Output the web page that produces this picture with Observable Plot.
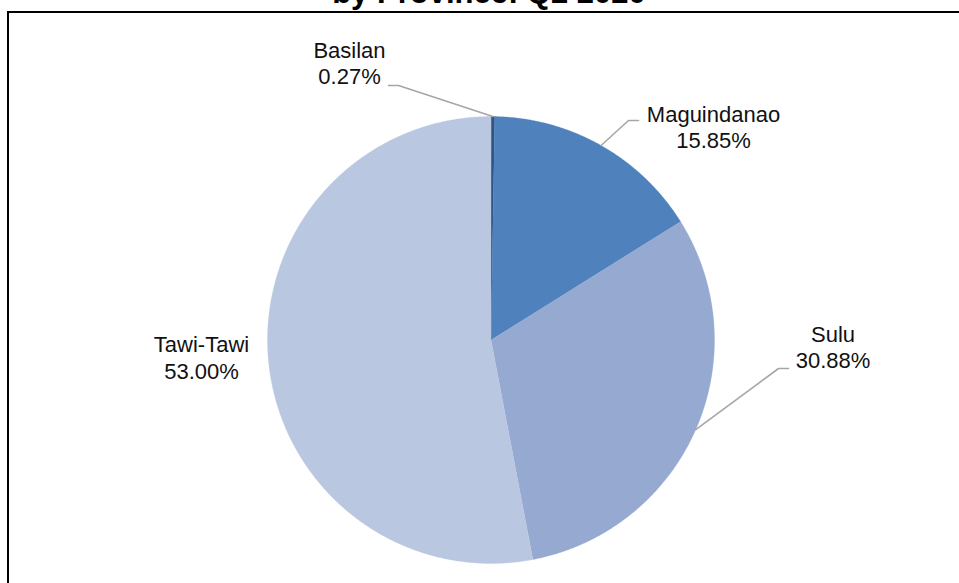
<!DOCTYPE html>
<html>
<head>
<meta charset="utf-8">
<script src="https://cdn.jsdelivr.net/npm/d3@7"></script>
<script src="https://cdn.jsdelivr.net/npm/@observablehq/plot@0.6"></script>
<style>
  html, body { margin: 0; padding: 0; background: #fff; }
  #wrap { position: relative; width: 959px; height: 583px; overflow: hidden; font-family: "Liberation Sans", Arial, sans-serif; }
  #title { position: absolute; left: 0; width: 978px; top: -25px; text-align: center; font-weight: bold; font-size: 31px; line-height: 36px; color: #000; white-space: nowrap; }
  #border { position: absolute; left: 7px; top: 11px; width: 980px; height: 600px; border-top: 2px solid #000; border-left: 2px solid #000; box-sizing: border-box; }
  #chart { position: absolute; left: 0; top: 0; }
</style>
</head>
<body>
<div id="wrap">
  <div id="title">by Province: Q2 2020</div>
  <div id="border"></div>
  <div id="chart"></div>
</div>
<script>
// ---- data ----
const provinces = ["Basilan", "Maguindanao", "Sulu", "Tawi-Tawi"];
const shares = [0.27, 15.85, 30.88, 53.00];
const shareLabels = ["0.27%", "15.85%", "30.88%", "53.00%"];

// ---- styles / layout (pixels) ----
const sliceColors = ["#2F5585", "#4F81BD", "#95A9D1", "#BAC7E1"];
const W = 959, H = 583;
const CX = 490.5, CY = 339.5, R = 223.5;
// label block centres and leader elbows (pixel positions)
const labelPos = [
  {x: 349, y: 62,  lead: [[388, 85], [398, 85]]},
  {x: 713, y: 126, lead: [[638, 120], [628, 120]]},
  {x: 832.5, y: 346, lead: [[788, 368], [778, 368]]},
  {x: 201, y: 356.5, lead: null}
];

// helpers: pixel -> unit coords (scale domain [-1,1])
const ux = px => (px - CX) / R;
const uy = py => (CY - py) / R;

// build slices
const total = d3.sum(shares);
let acc = 0;
const slices = provinces.map((name, i) => {
  const a0 = acc / total * 2 * Math.PI;
  acc += shares[i];
  const a1 = acc / total * 2 * Math.PI;
  const pts = [{x: 0, y: 0}];
  const n = Math.max(2, Math.ceil((a1 - a0) / (Math.PI / 720)));
  for (let k = 0; k <= n; k++) {
    const a = a0 + (a1 - a0) * k / n;
    pts.push({x: Math.sin(a), y: Math.cos(a)});
  }
  return {name, color: sliceColors[i], pts, mid: (a0 + a1) / 2};
});

// leader lines
const leaders = [];
slices.forEach((s, i) => {
  const L = labelPos[i].lead;
  if (!L) return;
  L.forEach(([px, py]) => leaders.push({id: s.name, x: ux(px), y: uy(py)}));
  leaders.push({id: s.name, x: Math.sin(s.mid), y: Math.cos(s.mid)});
});

const labels = provinces.map((p, i) => ({
  text: p + "\n" + shareLabels[i],
  x: ux(labelPos[i].x),
  y: uy(labelPos[i].y)
}));

const chart = Plot.plot({
  width: W,
  height: H,
  margin: 0,
  x: {domain: [-1, 1], range: [CX - R, CX + R], axis: null},
  y: {domain: [-1, 1], range: [CY + R, CY - R], axis: null},
  style: {fontFamily: "'Liberation Sans', Arial, sans-serif", background: "transparent", overflow: "visible"},
  marks: [
    ...slices.map(s => Plot.line(s.pts, {x: "x", y: "y", curve: "linear-closed", fill: s.color, stroke: s.color, strokeWidth: 0.3})),
    Plot.line(leaders, {x: "x", y: "y", z: "id", stroke: "#A6A6A6", strokeWidth: 1.6}),
    Plot.text(labels, {x: "x", y: "y", text: "text", fontSize: 22, lineHeight: 1.2, textAnchor: "middle", fill: "#111"})
  ]
});
document.getElementById("chart").appendChild(chart);
</script>
</body>
</html>
